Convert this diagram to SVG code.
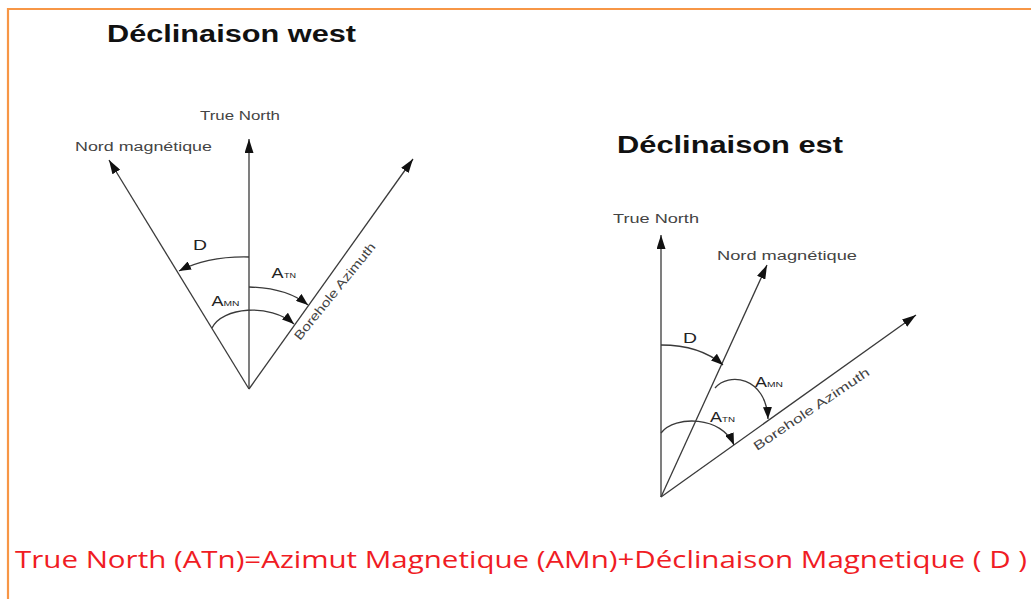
<svg xmlns="http://www.w3.org/2000/svg" width="1031" height="599" viewBox="0 0 1031 599">
<style>
.ln{stroke:#3a3a3a;stroke-width:1.3;fill:none}
.arc{stroke:#3a3a3a;stroke-width:1.3;fill:none}
.lbl{font-family:"Liberation Sans",Arial,sans-serif;fill:#444;font-size:12.5px}
.big{font-family:"Liberation Sans",Arial,sans-serif;font-weight:bold;fill:#111;font-size:23px}
.ang{font-family:"Liberation Sans",Arial,sans-serif;fill:#222;font-size:14px}
.sub{font-family:"Liberation Sans",Arial,sans-serif;fill:#222;font-size:7px}
.eq{font-family:"Open Sans","Liberation Sans",sans-serif;fill:#f01c24;font-size:24px}
</style>
<defs>
<marker id="ah" viewBox="0 0 14 9" refX="14" refY="4.5" markerWidth="14" markerHeight="9" markerUnits="userSpaceOnUse" orient="auto">
<path d="M0,0 L14,4.5 L0,9 z" fill="#111"/>
</marker>
<marker id="ahs" viewBox="0 0 12 9" refX="12" refY="4.5" markerWidth="12" markerHeight="9" markerUnits="userSpaceOnUse" orient="auto">
<path d="M0,0 L12,4.5 L0,9 z" fill="#111"/>
</marker>
</defs>
<rect width="1031" height="599" fill="#fff"/>
<path d="M8,599 V9 H1031" fill="none" stroke="#f79646" stroke-width="2.2"/>

<g id="west">
<text class="big" x="107" y="42" textLength="249" lengthAdjust="spacingAndGlyphs">Déclinaison west</text>
<g id="west-connectors">
<line class="ln" x1="249" y1="389" x2="249" y2="139" marker-end="url(#ah)"/>
<line class="ln" x1="249" y1="389" x2="109" y2="160" marker-end="url(#ah)"/>
<line class="ln" x1="249" y1="389" x2="413" y2="159" marker-end="url(#ah)"/>
<path class="arc" d="M249,257 Q208,256 179,271" marker-end="url(#ahs)"/>
<path class="arc" d="M249,287 Q287,288 308,305" marker-end="url(#ahs)"/>
<path class="arc" d="M212,328 C222,307 270,303 294,324" marker-end="url(#ahs)"/>
</g>
<text class="lbl" x="200" y="120" textLength="80" lengthAdjust="spacingAndGlyphs">True North</text>
<text class="lbl" x="75" y="151" textLength="137" lengthAdjust="spacingAndGlyphs">Nord magnétique</text>
<text class="ang" x="193" y="250" textLength="14" lengthAdjust="spacingAndGlyphs">D</text>
<text class="ang" x="271.5" y="278" textLength="12" lengthAdjust="spacingAndGlyphs">A</text>
<text class="sub" x="284" y="278" textLength="12" lengthAdjust="spacingAndGlyphs">TN</text>
<text class="ang" x="211.5" y="306" textLength="12" lengthAdjust="spacingAndGlyphs">A</text>
<text class="sub" x="223.5" y="306" textLength="16" lengthAdjust="spacingAndGlyphs">MN</text>
<text class="lbl" transform="translate(300,341) rotate(-51)" x="0" y="0" textLength="121" lengthAdjust="spacingAndGlyphs">Borehole Azimuth</text>
</g>

<g id="east">
<text class="big" x="617" y="153" textLength="226" lengthAdjust="spacingAndGlyphs">Déclinaison est</text>
<g id="east-connectors">
<line class="ln" x1="661" y1="497" x2="661" y2="235" marker-end="url(#ah)"/>
<line class="ln" x1="661" y1="497" x2="767" y2="265" marker-end="url(#ah)"/>
<line class="ln" x1="661" y1="497" x2="916" y2="315" marker-end="url(#ah)"/>
<path class="arc" d="M661,345 Q700,345 723,365" marker-end="url(#ahs)"/>
<path class="arc" d="M715,388 C728,372 766,376 768,419" marker-end="url(#ahs)"/>
<path class="arc" d="M661,433 C675,415 722,416 734,445" marker-end="url(#ahs)"/>
</g>
<text class="lbl" x="613" y="223" textLength="86" lengthAdjust="spacingAndGlyphs">True North</text>
<text class="lbl" x="717" y="260" textLength="140" lengthAdjust="spacingAndGlyphs">Nord magnétique</text>
<text class="ang" x="683" y="343" textLength="14" lengthAdjust="spacingAndGlyphs">D</text>
<text class="ang" x="755" y="387" textLength="12" lengthAdjust="spacingAndGlyphs">A</text>
<text class="sub" x="767" y="387" textLength="16" lengthAdjust="spacingAndGlyphs">MN</text>
<text class="ang" x="710" y="422" textLength="12" lengthAdjust="spacingAndGlyphs">A</text>
<text class="sub" x="722" y="422" textLength="13" lengthAdjust="spacingAndGlyphs">TN</text>
<text class="lbl" transform="translate(757,451) rotate(-34)" x="0" y="0" textLength="137" lengthAdjust="spacingAndGlyphs">Borehole Azimuth</text>
</g>

<text class="eq" x="15" y="568" textLength="1012" lengthAdjust="spacingAndGlyphs">True North (ATn)=Azimut Magnetique (AMn)+Déclinaison Magnetique ( D )</text>
</svg>
